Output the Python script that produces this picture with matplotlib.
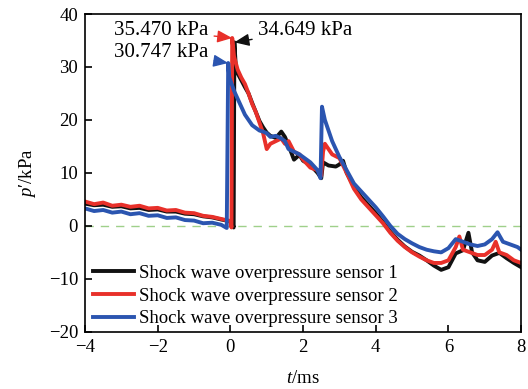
import matplotlib
matplotlib.use("Agg")
import matplotlib.pyplot as plt

plt.rcParams['font.family'] = ['Liberation Serif', 'DejaVu Serif']
plt.rcParams['mathtext.fontset'] = 'custom'
plt.rcParams['mathtext.rm'] = 'Liberation Serif'
plt.rcParams['mathtext.it'] = 'Liberation Serif:italic'
plt.rcParams['font.size'] = 13.5

# values (t in ms, p' in kPa)
t1 = [-4.0, -3.75, -3.5, -3.25, -3.0, -2.75, -2.5, -2.25, -2.0, -1.75, -1.5, -1.25, -1.0,
      -0.75, -0.5, -0.25, 0.05, 0.09, 0.11, 0.15, 0.2, 0.3, 0.4, 0.5, 0.6, 0.7, 0.8, 0.9,
      1.0, 1.1, 1.25, 1.4, 1.5, 1.6, 1.75, 1.9, 2.0, 2.2, 2.4, 2.5, 2.55, 2.7, 2.9, 3.0,
      3.1, 3.2, 3.4, 3.6, 3.8, 4.0, 4.2, 4.4, 4.6, 4.8, 5.0, 5.2, 5.4, 5.6, 5.8, 6.0, 6.2,
      6.4, 6.55, 6.65, 6.8, 7.0, 7.2, 7.4, 7.6, 7.8, 8.0]
p1 = [4.2, 3.9, 4.0, 3.6, 3.7, 3.3, 3.4, 3.0, 3.1, 2.7, 2.7, 2.3, 2.2, 1.8, 1.6, 1.2, 0.8,
      -0.3, 34.649, 30.0, 28.8, 27.5, 26.2, 25.0, 23.2, 21.5, 19.8, 18.6, 17.6, 17.0, 16.6,
      17.8, 16.8, 15.2, 12.5, 13.4, 12.3, 11.5, 10.0, 9.0, 12.0, 11.4, 11.2, 11.6, 12.3,
      10.0, 7.4, 5.4, 3.9, 2.4, 0.7, -1.1, -2.6, -3.9, -4.9, -5.6, -6.5, -7.5, -8.3, -7.8,
      -5.2, -4.6, -1.3, -5.0, -6.5, -6.8, -5.6, -5.1, -6.1, -7.0, -7.8]

t2 = [-4.0, -3.75, -3.5, -3.25, -3.0, -2.75, -2.5, -2.25, -2.0, -1.75, -1.5, -1.25, -1.0,
      -0.75, -0.5, -0.25, 0.0, 0.03, 0.05, 0.1, 0.2, 0.3, 0.4, 0.5, 0.6, 0.7, 0.8, 0.9, 1.0,
      1.1, 1.25, 1.4, 1.5, 1.6, 1.75, 1.9, 2.0, 2.2, 2.4, 2.5, 2.55, 2.6, 2.7, 2.8, 3.0,
      3.2, 3.4, 3.6, 3.8, 4.0, 4.2, 4.4, 4.6, 4.8, 5.0, 5.2, 5.4, 5.6, 5.8, 6.0, 6.2, 6.3,
      6.4, 6.6, 6.8, 7.0, 7.2, 7.3, 7.4, 7.6, 7.8, 8.0]
p2 = [4.6, 4.1, 4.4, 3.8, 4.0, 3.6, 3.8, 3.3, 3.4, 2.9, 3.0, 2.5, 2.4, 1.9, 1.7, 1.3, 0.9,
      -0.3, 35.47, 32.0, 29.5, 28.0, 26.8, 25.0, 23.0, 21.5, 19.5, 17.5, 14.5, 15.5, 16.0,
      16.5, 15.5, 16.0, 14.0, 13.5, 12.5, 11.0, 10.5, 9.5, 14.0, 15.5, 14.5, 13.5, 12.8,
      10.0, 7.0, 5.0, 3.5, 2.0, 0.5, -1.3, -2.8, -4.0, -5.0, -5.8, -6.5, -7.0, -7.0, -6.5,
      -4.0, -2.0, -4.5, -5.0, -5.5, -5.5, -4.5, -3.0, -5.0, -5.5, -6.5, -7.0]

t3 = [-4.0, -3.75, -3.5, -3.25, -3.0, -2.75, -2.5, -2.25, -2.0, -1.75, -1.5, -1.25, -1.0,
      -0.75, -0.5, -0.25, -0.1, -0.06, -0.03, 0.0, 0.1, 0.2, 0.3, 0.4, 0.5, 0.6, 0.7, 0.8,
      0.9, 1.0, 1.1, 1.25, 1.4, 1.5, 1.6, 1.75, 1.9, 2.0, 2.2, 2.4, 2.48, 2.52, 2.6, 2.8,
      3.0, 3.2, 3.4, 3.6, 3.8, 4.0, 4.2, 4.4, 4.6, 4.8, 5.0, 5.2, 5.4, 5.6, 5.8, 6.0, 6.2,
      6.4, 6.6, 6.8, 7.0, 7.2, 7.35, 7.5, 7.7, 7.9, 8.0]
p3 = [3.3, 2.8, 3.0, 2.5, 2.7, 2.2, 2.4, 1.9, 2.0, 1.5, 1.6, 1.1, 1.0, 0.5, 0.6, 0.2, -0.4,
      30.747, 28.0, 27.5, 25.5, 24.0, 22.5, 21.0, 20.0, 19.0, 18.5, 18.0, 17.8, 17.5, 16.8,
      17.0, 16.5, 16.0, 14.5, 14.0, 13.5, 13.0, 12.0, 10.5, 9.0, 22.5, 20.0, 16.0, 13.0,
      10.5, 8.0, 6.5, 5.0, 3.5, 1.8, 0.0, -1.5, -2.5, -3.3, -4.0, -4.5, -4.8, -5.0, -4.2,
      -2.5, -3.0, -3.5, -3.8, -3.5, -2.5, -1.2, -3.0, -3.5, -4.0, -4.5]

labels = ['Shock wave overpressure sensor 1', 'Shock wave overpressure sensor 2',
          'Shock wave overpressure sensor 3']
colors = ['#111111', '#e8302a', '#2b55b0']

fig = plt.figure(figsize=(5.28, 3.89), dpi=100)
ax = fig.add_axes([0.161, 0.147, 0.826, 0.817])

ax.axhline(0, color='#9fd08a', lw=1.0, ls=(0, (6, 5)), zorder=1)

for t, p, c, lab in zip([t1, t2, t3], [p1, p2, p3], colors, labels):
    ax.plot(t, p, color=c, lw=2.8, label=lab, zorder=2)

# peak annotations
arrow = dict(arrowstyle='-|>,head_length=0.6,head_width=0.25', lw=1.0, shrinkA=2, shrinkB=0)
ax.annotate('35.470 kPa', xy=(t2[18], p2[18]), xytext=(-0.6, 36.9), fontsize=15,
            ha='right', va='center', arrowprops=dict(arrow, color=colors[1]))
ax.annotate('34.649 kPa', xy=(t1[18], p1[18]), xytext=(0.75, 36.9), fontsize=15,
            ha='left', va='center', arrowprops=dict(arrow, color=colors[0]))
ax.annotate('30.747 kPa', xy=(t3[17], p3[17]), xytext=(-0.6, 32.7), fontsize=15,
            ha='right', va='center', arrowprops=dict(arrow, color=colors[2]))

ax.set_xlim(-4, 8)
ax.set_ylim(-20, 40)
ax.set_xticks([-4, -2, 0, 2, 4, 6, 8])
ax.set_yticks([-20, -10, 0, 10, 20, 30, 40])
ax.set_xticklabels(['\u22124', '\u22122', '0', '2', '4', '6', '8'])
ax.set_yticklabels(['\u221220', '\u221210', '0', '10', '20', '30', '40'])
ax.tick_params(direction='in', length=5, width=1.2, labelsize=13.5, pad=5)
for s in ax.spines.values():
    s.set_linewidth(1.2)

ax.set_xlabel('$t$/ms', fontsize=13.5, labelpad=10)
ax.set_ylabel("$p$\u2032/kPa", fontsize=13.5, labelpad=8)

ax.legend(loc='lower left', frameon=False, fontsize=13.5, handlelength=2.2,
          handletextpad=0.3, labelspacing=0.3, borderaxespad=0.0,
          bbox_to_anchor=(0.0, -0.01))

fig.savefig('out.png', dpi=100)
